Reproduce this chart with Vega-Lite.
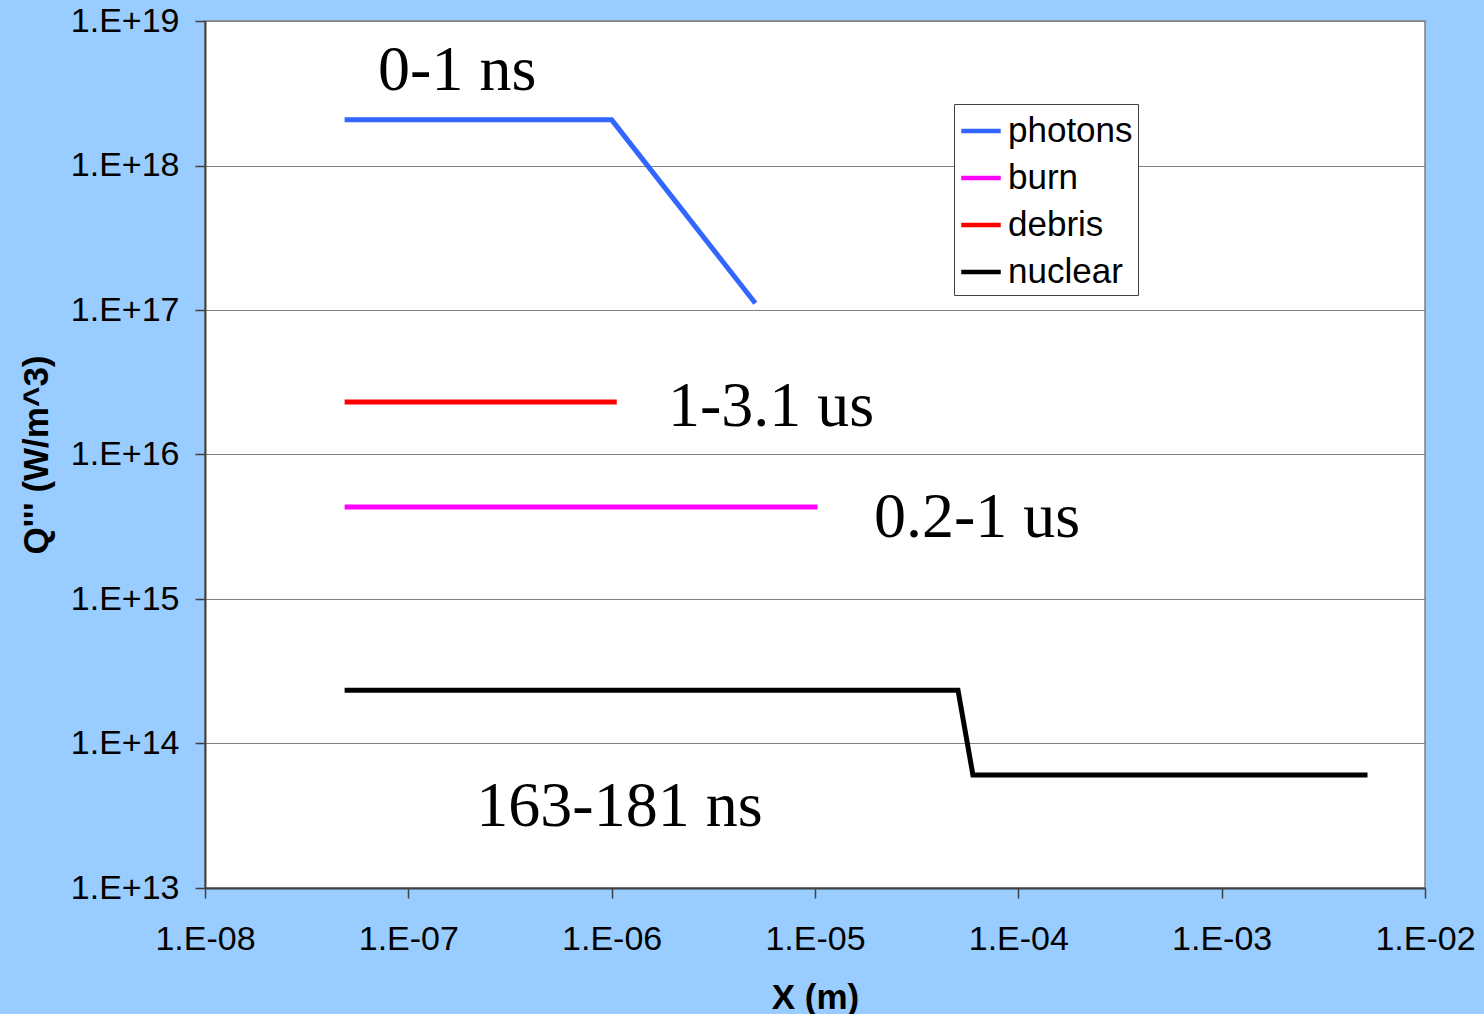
{
  "$schema": "https://vega.github.io/schema/vega-lite/v6.json",
  "width": 1220,
  "height": 867,
  "autosize": {"type": "none"},
  "padding": {"left": 205, "top": 21, "right": 59, "bottom": 126},
  "background": "#99CCFF",
  "config": {
    "font": "Liberation Sans",
    "view": {"fill": "#FFFFFF", "stroke": "#808080", "strokeWidth": 1.5}
  },
  "datasets": {
    "series": [
      {"series": "photons", "x": 5e-8, "q": 2.07e18},
      {"series": "photons", "x": 1e-6, "q": 2.07e18},
      {"series": "photons", "x": 5e-6, "q": 1.15e17},
      {"series": "burn", "x": 5e-8, "q": 4.33e15},
      {"series": "burn", "x": 1e-5, "q": 4.33e15},
      {"series": "debris", "x": 5e-8, "q": 2.31e16},
      {"series": "debris", "x": 1.03e-6, "q": 2.31e16},
      {"series": "nuclear", "x": 5e-8, "q": 2.34e14},
      {"series": "nuclear", "x": 1e-6, "q": 2.34e14},
      {"series": "nuclear", "x": 1e-5, "q": 2.34e14},
      {"series": "nuclear", "x": 2e-5, "q": 2.34e14},
      {"series": "nuclear", "x": 5.05e-5, "q": 2.34e14},
      {"series": "nuclear", "x": 5.98e-5, "q": 6.05e13},
      {"series": "nuclear", "x": 1e-4, "q": 6.05e13},
      {"series": "nuclear", "x": 1e-3, "q": 6.05e13},
      {"series": "nuclear", "x": 5.07e-3, "q": 6.05e13}
    ],
    "labels": [
      {"text": "0-1 ns", "x": 7.1e-8, "q": 3.35e18},
      {"text": "1-3.1 us", "x": 1.89e-6, "q": 1.58e16},
      {"text": "0.2-1 us", "x": 1.95e-5, "q": 2.68e15},
      {"text": "163-181 ns", "x": 2.16e-7, "q": 2.68e13}
    ]
  },
  "layer": [
    {
      "data": {"name": "series"},
      "mark": {"type": "line", "strokeWidth": 5, "strokeJoin": "miter", "strokeCap": "square"},
      "encoding": {
        "x": {
          "field": "x", "type": "quantitative",
          "scale": {"type": "log", "domain": [1e-8, 1e-2], "nice": false},
          "axis": {
            "title": "X (m)",
            "values": [1e-8, 1e-7, 1e-6, 1e-5, 1e-4, 1e-3, 1e-2],
            "labelExpr": "'1.E-0' + round(-log(datum.value)/LN10)",
            "grid": false,
            "domainColor": "#404040", "domainWidth": 2,
            "tickColor": "#404040", "tickSize": 10, "tickWidth": 1.5,
            "labelFontSize": 34, "labelColor": "#000000", "labelPadding": 24,
            "labelFlush": false, "labelOverlap": false,
            "titleFontSize": 35, "titleFontWeight": "bold", "titleColor": "#000000",
            "titlePadding": 24
          }
        },
        "y": {
          "field": "q", "type": "quantitative",
          "scale": {"type": "log", "domain": [1e13, 1e19], "nice": false},
          "axis": {
            "title": "Q''' (W/m^3)",
            "values": [1e13, 1e14, 1e15, 1e16, 1e17, 1e18, 1e19],
            "labelExpr": "'1.E+' + round(log(datum.value)/LN10)",
            "grid": true, "gridColor": "#808080", "gridWidth": 1.2, "gridOpacity": 1,
            "domainColor": "#404040", "domainWidth": 2,
            "tickColor": "#404040", "tickSize": 10, "tickWidth": 1.5,
            "labelFontSize": 34, "labelColor": "#000000", "labelPadding": 16,
            "labelFlush": false, "labelOverlap": false,
            "titleFontSize": 35, "titleFontWeight": "bold", "titleColor": "#000000",
            "titlePadding": 16
          }
        },
        "color": {
          "field": "series", "type": "nominal",
          "scale": {
            "domain": ["photons", "burn", "debris", "nuclear"],
            "range": ["#3366FF", "#FF00FF", "#FF0000", "#000000"]
          },
          "legend": {
            "title": null,
            "orient": "none",
            "legendX": 749,
            "legendY": 83,
            "fillColor": "#FFFFFF",
            "strokeColor": "#404040",
            "padding": 5,
            "symbolType": "stroke",
            "symbolSize": 1560,
            "symbolStrokeWidth": 4.5,
            "labelFontSize": 35,
            "labelColor": "#000000",
            "labelOffset": 5,
            "rowPadding": 7,
            "labelLimit": 300
          }
        }
      }
    },
    {
      "data": {"name": "labels"},
      "mark": {"type": "text", "align": "left", "baseline": "alphabetic", "font": "Liberation Serif", "fontSize": 64, "color": "#000000"},
      "encoding": {
        "x": {"field": "x", "type": "quantitative"},
        "y": {"field": "q", "type": "quantitative"},
        "text": {"field": "text"}
      }
    }
  ]
}
